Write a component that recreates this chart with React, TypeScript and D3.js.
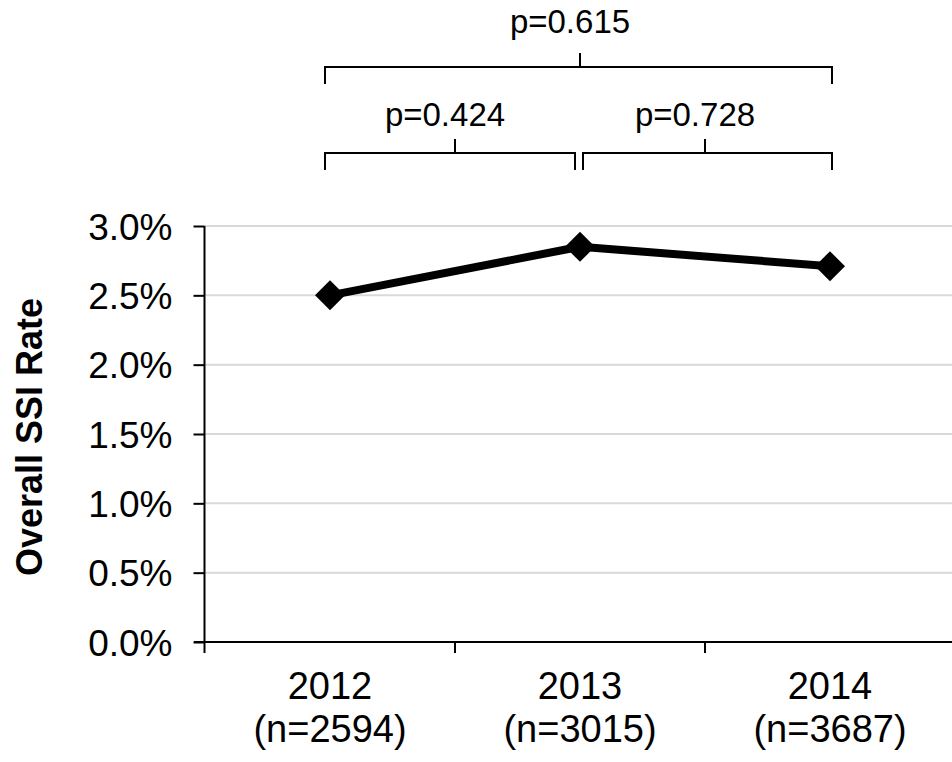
import React, { useEffect, useRef } from 'react';
import * as d3 from 'd3';

const years = ['2012', '2013', '2014'];
const counts = ['(n=2594)', '(n=3015)', '(n=3687)'];
const ssiRate = [2.5, 2.85, 2.71];
const yTicks = [0, 0.5, 1.0, 1.5, 2.0, 2.5, 3.0];
const comparisons = [
  { from: '2012', to: '2014', label: 'p=0.615', level: 0 },
  { from: '2012', to: '2013', label: 'p=0.424', level: 1 },
  { from: '2013', to: '2014', label: 'p=0.728', level: 1 },
];

const W = 952;
const H = 762;
const FONT = '"Liberation Sans", Arial, sans-serif';

export default function App() {
  const ref = useRef<SVGSVGElement>(null);

  useEffect(() => {
    const svg = d3.select(ref.current);
    svg.selectAll('*').remove();

    const left = 205, right = 955, top = 226, bottom = 642;
    const x = d3.scaleBand().domain(years).range([left, right]);
    const y = d3.scaleLinear().domain([0, 3]).range([bottom, top]);
    const cx = (d: string) => (x(d) as number) + x.bandwidth() / 2;

    // gridlines
    svg.append('g')
      .selectAll('line')
      .data(yTicks.filter(t => t > 0))
      .enter()
      .append('line')
      .attr('x1', left)
      .attr('x2', W)
      .attr('y1', d => y(d))
      .attr('y2', d => y(d))
      .attr('stroke', '#d9d9d9')
      .attr('stroke-width', 2);

    // y axis
    const ya = svg.append('g')
      .attr('transform', `translate(${left - 0.5},0)`)
      .call(d3.axisLeft(y).tickValues(yTicks).tickSize(11).tickPadding(21)
        .tickFormat(d => (+d).toFixed(1) + '%'));
    ya.attr('font-size', null).attr('font-family', null);
    ya.select('.domain').attr('stroke', '#000').attr('stroke-width', 2).attr('d', `M0,${top}V${bottom}`);
    ya.selectAll('.tick line').attr('stroke', '#000').attr('stroke-width', 2);
    ya.selectAll('.tick text')
      .attr('font-family', FONT)
      .attr('font-size', 37)
      .attr('dy', '0.36em')
      .attr('fill', '#000');

    // x axis
    svg.append('line')
      .attr('x1', left - 11).attr('x2', W)
      .attr('y1', bottom).attr('y2', bottom)
      .attr('stroke', '#000').attr('stroke-width', 2);
    svg.append('g')
      .selectAll('line')
      .data(years)
      .enter()
      .append('line')
      .attr('x1', d => (x(d) as number) - (d === years[0] ? 0.5 : 0))
      .attr('x2', d => (x(d) as number) - (d === years[0] ? 0.5 : 0))
      .attr('y1', bottom)
      .attr('y2', bottom + 11)
      .attr('stroke', '#000').attr('stroke-width', 2);

    const xl = svg.append('g').selectAll('text').data(years).enter().append('text')
      .attr('x', d => cx(d))
      .attr('text-anchor', 'middle')
      .attr('font-family', FONT)
      .attr('font-size', 38)
      .attr('fill', '#000');
    xl.append('tspan').attr('x', d => cx(d)).attr('y', 699).text(d => d);
    xl.append('tspan').attr('x', d => cx(d)).attr('y', 742).text((d, i) => counts[i]);

    // y title
    svg.append('text')
      .attr('transform', `translate(42,437) rotate(-90)`)
      .attr('text-anchor', 'middle')
      .attr('font-family', FONT)
      .attr('font-size', 36)
      .attr('font-weight', 'bold')
      .attr('fill', '#000')
      .text('Overall SSI Rate');

    // line
    const line = d3.line<number>()
      .x((d, i) => cx(years[i]))
      .y(d => y(d));
    svg.append('path')
      .datum(ssiRate)
      .attr('d', line)
      .attr('fill', 'none')
      .attr('stroke', '#000')
      .attr('stroke-width', 8)
      .attr('stroke-linejoin', 'round');

    svg.append('g').selectAll('path').data(ssiRate).enter().append('path')
      .attr('d', d3.symbol().type(d3.symbolSquare).size(450)())
      .attr('transform', (d, i) => `translate(${cx(years[i])},${y(d)}) rotate(45)`)
      .attr('fill', '#000');

    // brackets
    const levelY = [67, 153];
    const labelY = [33, 126];
    const br = svg.append('g').selectAll('g').data(comparisons).enter().append('g');
    br.append('path')
      .attr('d', d => {
        const by = levelY[d.level];
        const x1 = cx(d.from) - 5 + (d.level === 1 && d.from === '2013' ? 8 : 0);
        const x2 = cx(d.to) + 2 - (d.level === 1 && d.to === '2013' ? 7 : 0);
        return `M${x1},${by + 17}V${by}H${x2}V${by + 17}`;
      })
      .attr('fill', 'none')
      .attr('stroke', '#000')
      .attr('stroke-width', 2);
    br.append('line')
      .attr('x1', d => (cx(d.from) + cx(d.to)) / 2)
      .attr('x2', d => (cx(d.from) + cx(d.to)) / 2)
      .attr('y1', d => levelY[d.level])
      .attr('y2', d => levelY[d.level] - 14)
      .attr('stroke', '#000')
      .attr('stroke-width', 2);
    br.append('text')
      .attr('x', d => (cx(d.from) + cx(d.to)) / 2 - 10)
      .attr('y', d => labelY[d.level])
      .attr('text-anchor', 'middle')
      .attr('font-family', FONT)
      .attr('font-size', 33)
      .attr('fill', '#000')
      .text(d => d.label);
  }, []);

  return <svg ref={ref} width={W} height={H} style={{ display: 'block', position: 'absolute', left: 0, top: 0, background: '#fff' }} />;
}
